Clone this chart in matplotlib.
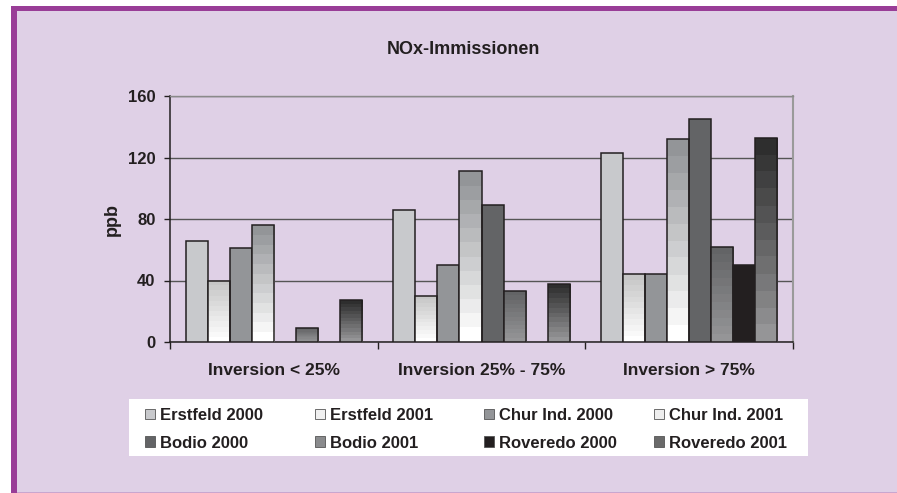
import numpy as np
import matplotlib
matplotlib.use("Agg")
import matplotlib.pyplot as plt
from matplotlib.patches import Rectangle, Patch
from matplotlib.colors import LinearSegmentedColormap

plt.rcParams['font.family'] = ['Liberation Sans', 'DejaVu Sans']
plt.rcParams['font.weight'] = 'bold'

# data (ppb)
categories = ["Inversion < 25%", "Inversion 25% - 75%", "Inversion > 75%"]
series = ["Erstfeld 2000", "Erstfeld 2001", "Chur Ind. 2000", "Chur Ind. 2001",
          "Bodio 2000", "Bodio 2001", "Roveredo 2000", "Roveredo 2001"]
erstfeld_2000 = [66, 86, 123]
erstfeld_2001 = [40, 30, 44]
chur_2000 = [61, 50, 44]
chur_2001 = [76, 111, 132]
bodio_2000 = [np.nan, 89, 145]
bodio_2001 = [9, 33, 62]
roveredo_2000 = [np.nan, np.nan, 50]
roveredo_2001 = [27, 38, 133]
values = [erstfeld_2000, erstfeld_2001, chur_2000, chur_2001,
          bodio_2000, bodio_2001, roveredo_2000, roveredo_2001]

# fill: solid colour or (top, bottom) gradient
fills = ["#c8c9cc", ("#c6c6c6", "#ffffff"), "#939598", ("#939598", "#ffffff"),
         "#636466", ("#636466", "#959597"), "#231f20", ("#2e2e2e", "#959597")]
legend_cols = ["#c8c9cc", "#f0f0f0", "#939598", "#eeeeee",
               "#636466", "#8a8b8d", "#231f20", "#6a6a6a"]

dark = "#231f20"
lavender = "#dfd0e6"
purple = "#993d97"

W, H = 897, 493
fig = plt.figure(figsize=(W / 100, H / 100), dpi=100, facecolor="white")

# frame of the slide
fig.add_artist(Rectangle((16 / W, 0), 1, 1 - 11 / H, transform=fig.transFigure,
                         facecolor=lavender, edgecolor="none", zorder=-10))
fig.add_artist(Rectangle((11 / W, 0), 5.7 / W, 1 - 6 / H, transform=fig.transFigure,
                         facecolor=purple, edgecolor="none", zorder=-9))
fig.add_artist(Rectangle((11 / W, 1 - 11 / H), 1, 5 / H, transform=fig.transFigure,
                         facecolor=purple, edgecolor="none", zorder=-9))
fig.add_artist(Rectangle((16.7 / W, 0), 1, 1.5 / H, transform=fig.transFigure,
                         facecolor="#c9a6cf", edgecolor="none", zorder=-9))

ax = fig.add_axes([170 / W, 1 - 342 / H, 623 / W, 246 / H])
ax.set_facecolor("none")

x = np.arange(len(categories))
w = 0.106
for j, (name, vals, fill) in enumerate(zip(series, values, fills)):
    pos = x + (j - 3.5) * w
    if isinstance(fill, str):
        ax.bar(pos, vals, w, color=fill, edgecolor=dark, linewidth=1.1, zorder=3)
    else:
        cmap = LinearSegmentedColormap.from_list(name, [fill[1], fill[0]], N=12)
        bars = ax.bar(pos, vals, w, color="none", edgecolor=dark, linewidth=1.1, zorder=4)
        for b in bars:
            h = b.get_height()
            if np.isnan(h):
                continue
            grad = np.linspace(0, 1, 256).reshape(-1, 1)
            im = ax.imshow(grad, cmap=cmap, origin="lower", aspect="auto",
                           extent=(b.get_x(), b.get_x() + b.get_width(), 0, h),
                           interpolation="nearest", zorder=3)
            im.set_clip_path(b)

ax.set_xlim(-0.5, 2.5)
ax.set_ylim(0, 160)
ax.set_yticks([0, 40, 80, 120, 160])
ax.grid(axis="y", color="#555555", linewidth=1.0, zorder=1)
ax.set_axisbelow(True)

ax.set_xticks(x)
ax.set_xticklabels(categories)
ax.set_xticks([-0.5, 0.5, 1.5, 2.5], minor=True)
ax.tick_params(axis="x", which="major", length=0, pad=15, labelsize=12.5, labelcolor=dark)
ax.tick_params(axis="x", which="minor", length=5, width=1, color=dark, direction="out")
ax.tick_params(axis="y", length=4.5, width=1, color=dark, pad=6, labelsize=12, labelcolor=dark)
for lab in ax.get_xticklabels() + ax.get_yticklabels():
    lab.set_fontweight("bold")

for s in ["left", "bottom"]:
    ax.spines[s].set_color(dark)
    ax.spines[s].set_linewidth(1.1)
ax.spines["right"].set_color("#9a9a9a")
ax.spines["right"].set_linewidth(1.5)
ax.spines["top"].set_color("#8a8a8a")
ax.spines["top"].set_linewidth(1.0)

ax.set_ylabel("ppb", fontsize=13, fontweight="bold", color=dark)
ax.yaxis.set_label_coords(-0.079, 0.5)

fig.text(463 / W, 1 - 50 / H, "NOx-Immissionen", ha="center", va="center",
         fontsize=13, fontweight="bold", color=dark)

# white legend box, then one small legend per column (row-wise order like Excel)
fig.add_artist(Rectangle((129 / W, 1 - 456 / H), 679 / W, 57 / H, transform=fig.transFigure,
                         facecolor="white", edgecolor="none", zorder=1))
col_x = [145, 315, 484, 654]
for c in range(4):
    idx = [c, c + 4]
    handles = [Patch(facecolor=legend_cols[i], edgecolor="#555555", linewidth=0.6) for i in idx]
    leg = fig.legend(handles, [series[i] for i in idx], ncol=1, loc="upper left",
                     bbox_to_anchor=(col_x[c] / W, 1 - 408 / H),
                     frameon=False, handlelength=0.6, handleheight=0.6,
                     handletextpad=0.3, labelspacing=0.75, borderpad=0,
                     borderaxespad=0, prop={"size": 12, "weight": "bold"})
    leg.set_zorder(2)
    for t in leg.get_texts():
        t.set_color(dark)

fig.savefig("out.png", dpi=100, facecolor=fig.get_facecolor())
